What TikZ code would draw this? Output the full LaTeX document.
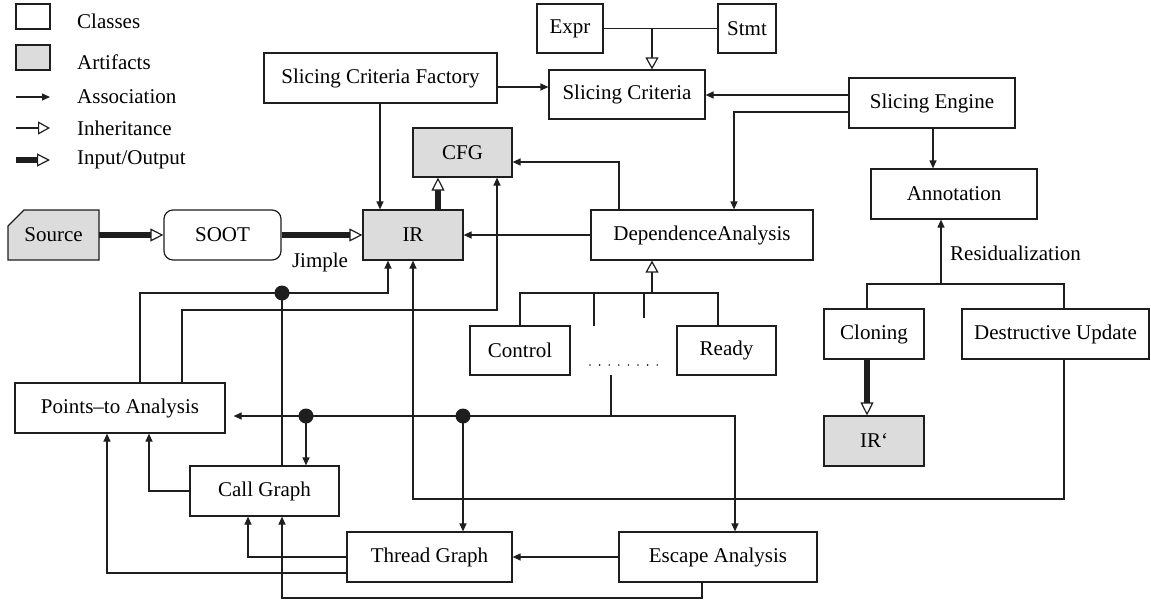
\documentclass[tikz,border=0pt]{standalone}
\usepackage{fontspec}
\setmainfont{Liberation Serif}
\usetikzlibrary{arrows.meta}
\definecolor{artgray}{HTML}{DCDCDC}
\definecolor{edgec}{HTML}{1E1E1E}
\tikzset{
  assochead/.tip={Triangle[length=8pt,width=7pt]},
  wire/.style={line width=1.2pt, draw=edgec},
  cls/.style={draw=edgec, line width=1.2pt, fill=white, inner sep=0pt, font=\fontsize{21}{25}\selectfont},
  art/.style={cls, fill=artgray},
  assoc/.style={wire, -assochead},
  inh/.style={wire, -{Triangle[open, length=12pt, width=13pt, fill=white]}},
  io/.style={line width=5.5pt, draw=edgec, -{Triangle[open, length=13pt, width=13pt, line width=1.2pt, fill=white]}},
  lbl/.style={font=\fontsize{21}{25}\selectfont, inner sep=0pt},
  junc/.style={fill=edgec},
}
\begin{document}
\begin{tikzpicture}[x=1pt,y=-1pt]
\useasboundingbox (0,0) rectangle (1151,602);

% ---------- legend ----------
\node[cls, minimum width=34pt, minimum height=25pt] (lgcls) at (33,16.5) {};
\node[lbl, anchor=west] (lgclst) at (77,21) {Classes};
\node[art, minimum width=34pt, minimum height=25pt] (lgart) at (33,57.5) {};
\node[lbl, anchor=west] (lgartt) at (77,62) {Artifacts};
\coordinate (la1) at (16,97); \coordinate (la2) at (50,97);
\draw[assoc] (la1) -- (la2);
\node[lbl, anchor=west] (lgass) at (77,97) {Association};
\coordinate (li1) at (16,128); \coordinate (li2) at (50,128);
\draw[inh] (li1) -- (li2);
\node[lbl, anchor=west] (lginh) at (77,128) {Inheritance};
\coordinate (lo1) at (16,160); \coordinate (lo2) at (50,160);
\draw[io] (lo1) -- (lo2);
\node[lbl, anchor=west] (lgio) at (77,160) {Input/Output};

% ---------- nodes ----------
\node[cls, minimum width=66pt, minimum height=49pt] (expr) at (570,28.5) {Expr};
\node[cls, minimum width=58pt, minimum height=49pt] (stmt) at (747,28.5) {Stmt};
\node[cls, minimum width=233pt, minimum height=50pt] (scf) at (380.5,78) {Slicing Criteria Factory};
\node[cls, minimum width=156pt, minimum height=49pt] (sc) at (627,94.5) {Slicing Criteria};
\node[cls, minimum width=166pt, minimum height=50pt] (se) at (932,103) {Slicing Engine};
\node[art, minimum width=99pt, minimum height=49pt] (cfg) at (462.5,152.5) {CFG};
\node[cls, minimum width=166pt, minimum height=50pt] (annot) at (954,194) {Annotation};

\fill[artgray, draw=edgec, line width=1.2pt] (8,260) -- (8,226) -- (24,210) -- (99,210) -- (99,260) -- cycle;
\node[lbl, minimum width=91pt, minimum height=50pt] (source) at (53.5,235) {Source};
\node[cls, rounded corners=9pt, minimum width=117pt, minimum height=50pt] (soot) at (222.5,235) {SOOT};
\node[art, minimum width=100pt, minimum height=50pt] (ir) at (413,235) {IR};
\node[cls, minimum width=222pt, minimum height=50pt] (da) at (702,235) {DependenceAnalysis};

\node[cls, minimum width=100pt, minimum height=49pt] (control) at (520,350.5) {Control};
\node[cls, minimum width=99pt, minimum height=49pt] (ready) at (726.5,350.5) {Ready};
\node[cls, minimum width=100pt, minimum height=50pt] (cloning) at (874,334) {Cloning};
\node[cls, minimum width=187pt, minimum height=50pt] (du) at (1055.5,334) {Destructive Update};
\node[art, minimum width=100pt, minimum height=50pt] (irp) at (874,441) {IR`};

\node[cls, minimum width=210pt, minimum height=50pt] (pta) at (120,408) {Points--to Analysis};
\node[cls, minimum width=149pt, minimum height=50pt] (cg) at (264.5,491) {Call Graph};
\node[cls, minimum width=165pt, minimum height=50pt] (tg) at (429.5,557) {Thread Graph};
\node[cls, minimum width=198pt, minimum height=50pt] (ea) at (718,557) {Escape Analysis};

\node[lbl] (jimple) at (320,262) {Jimple};
\node[lbl, anchor=west] (resid) at (950,253) {Residualization};

% dots for other analyses
\foreach \dx in {0,...,7} { \fill[edgec] (590+\dx*9.6,365) circle (0.9); }
\coordinate (others) at (611,375);

% ---------- connectors ----------
\draw[assoc] (scf.east |- 0,87) -- (sc.west |- 0,87);
\draw[wire] (expr.east) -- (stmt.west);
\coordinate (j1) at (652,28.5);
\draw[inh] (j1) -- (sc.north -| j1);
\draw[assoc] (se.west |- 0,95) -- (sc.east |- 0,95);
\draw[assoc] (se.west |- 0,112) -| (da.north -| 734,0);
\draw[assoc] (se.south -| 933,0) -- (annot.north -| 933,0);
\draw[assoc] (scf.south -| 380,0) -- (ir.north -| 380,0);
\draw[io] (ir.north -| 438,0) -- (cfg.south -| 438,0);
\draw[assoc] (da.north -| 619,0) |- (cfg.east |- 0,162);
\draw[assoc] (da.west) -- (ir.east);
\draw[io] (source.east) -- (soot.west);
\draw[io] (soot.east) -- (ir.west);

% DependenceAnalysis inheritance tree
\coordinate (j2) at (652,293);
\draw[inh] (j2) -- (da.south -| j2);
\draw[wire] (control.north) |- (718,293) -- (ready.north -| 718,0);
\draw[wire] (594,293) -- (594,326);
\draw[wire] (644,293) -- (644,318);

% others -> analyses
\draw[wire] (others) -- (611,416);
\draw[wire, assochead-assochead, shorten <=8pt] (pta.east |- 0,416) -| (ea.north -| 735,0);
\fill[junc] (306,416) circle (7.5);
\draw[assoc] (306,416) -- (cg.north -| 306,0);
\fill[junc] (463,416) circle (7.5);
\draw[assoc] (463,416) -- (tg.north -| 463,0);

% Points-to / Call Graph -> IR
\draw[assoc] (pta.north -| 140,0) |- (388,293) -- (ir.south -| 388,0);
\draw[wire] (cg.north -| 282,0) -- (282,293);
\fill[junc] (282,293) circle (7.5);
% Points-to -> CFG
\draw[assoc] (pta.north -| 182,0) |- (497,310) -- (cfg.south -| 497,0);
% Destructive Update -> IR
\draw[assoc] (du.south -| 1064,0) |- (413,499) -- (ir.south -| 413,0);

% lower analyses
\draw[assoc] (cg.west) -| (pta.south -| 149,0);
\draw[assoc] (tg.west) -| (cg.south -| 248,0);
\draw[assoc] (tg.west |- 0,573) -| (pta.south -| 107,0);
\draw[assoc] (ea.south -| 702,0) |- (282,598) -- (cg.south -| 282,0);
\draw[assoc] (ea.west) -- (tg.east);

% residualization
\draw[assoc] (941,284) -- (annot.south -| 941,0);
\draw[wire] (cloning.north -| 867,0) |- (1064,284) -- (du.north -| 1064,0);
\draw[io] (cloning.south -| 867,0) -- (irp.north -| 867,0);
\end{tikzpicture}
\end{document}
